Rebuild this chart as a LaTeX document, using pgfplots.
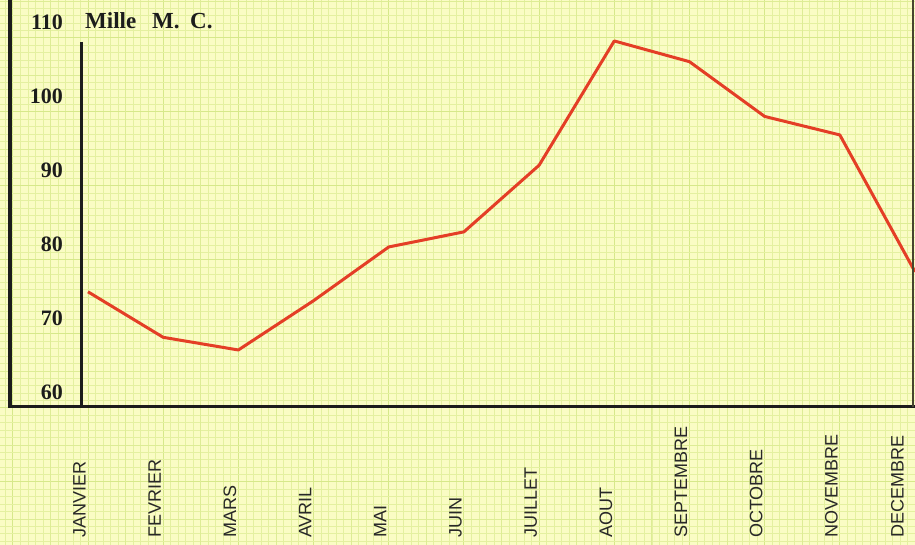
\documentclass[border=0pt]{standalone}
\usepackage{pgfplots}
\pgfplotsset{compat=1.18}
\usepackage{fontspec}
\setmainfont{Liberation Serif}
\newfontfamily\sansf{Liberation Sans}
\definecolor{paper}{RGB}{250,252,196}
\definecolor{gminor}{RGB}{228,240,160}
\definecolor{gmajor}{RGB}{214,232,138}
\definecolor{ink}{RGB}{28,28,28}
\definecolor{monthink}{RGB}{40,40,40}
\definecolor{redline}{RGB}{228,62,38}
\begin{document}
\begin{tikzpicture}
\begin{axis}[name=ax, at={(0,0)}, anchor=south west,
  scale only axis, width=915pt, height=545pt,
  xmin=-1.1705, xmax=11.0, ymin=41.486, ymax=115.135,
  axis background/.style={fill=paper},
  axis line style={draw=none},
  xtick={-2,...,12}, ytick={30,40,...,120},
  minor x tick num=9, minor y tick num=9,
  major tick length=0pt, minor tick length=0pt,
  xticklabels={}, yticklabels={},
  grid=both,
  minor grid style={gminor, line width=0.7pt},
  major grid style={gmajor, line width=1.0pt},
  extra x ticks={-1.5,-0.5,...,11.5}, extra y ticks={35,45,...,115},
  extra x tick labels={}, extra y tick labels={},
  extra tick style={major grid style={gmajor!50!gminor, line width=0.8pt}},
  clip=true,
]
\addplot[redline, line width=3pt, line join=round] coordinates {
  (0,75.7) (1,69.55) (2,67.84) (3,74.5) (4,81.76) (5,83.8)
  (6,92.8) (7,109.6) (8,106.8) (9,99.4) (10,96.9) (11,78.4)
};
% frame lines
\draw[ink, line width=3.5pt] (axis cs:-1.0375,115.2) -- (axis cs:-1.0375,60.135);
\draw[ink, line width=3pt] (axis cs:-0.0865,109.46) -- (axis cs:-0.0865,60.135);
\draw[ink, line width=3pt] (axis cs:-1.064,60.135) -- (axis cs:11.05,60.135);
\draw[black!65!olive, line width=1.3pt] (axis cs:10.974,115.2) -- (axis cs:10.974,60.135);
% y labels
\foreach \v in {60,70,80,90,100,110}{
  \edef\tmp{\noexpand\node[anchor=base east, inner sep=0pt, text=ink, font=\noexpand\fontsize{22}{22}\noexpand\selectfont\noexpand\bfseries] at (axis cs:-0.3325,\v+1.1) {\v};}
  \tmp
}
\node[anchor=base west, inner sep=0pt, text=ink, font=\fontsize{23}{24}\selectfont\bfseries] at (axis cs:-0.04,111.31) {Mille};
\node[anchor=base west, inner sep=0pt, text=ink, font=\fontsize{23}{24}\selectfont\bfseries] at (axis cs:0.851,111.31) {M.};
\node[anchor=base west, inner sep=0pt, text=ink, font=\fontsize{23}{24}\selectfont\bfseries] at (axis cs:1.357,111.31) {C.};
% month labels
\tikzset{month/.style={rotate=90, anchor=base west, inner sep=0pt, text=monthink, font=\sansf\fontsize{18}{18}\selectfont}}
\node[month] at (axis cs:-0.03,42.43) {JANVIER};
\node[month] at (axis cs:0.97,42.43) {FEVRIER};
\node[month] at (axis cs:1.97,42.43) {MARS};
\node[month] at (axis cs:2.97,42.43) {AVRIL};
\node[month] at (axis cs:3.97,42.43) {MAI};
\node[month] at (axis cs:4.97,42.43) {JUIN};
\node[month] at (axis cs:5.97,42.43) {JUILLET};
\node[month] at (axis cs:6.97,42.43) {AOUT};
\node[month] at (axis cs:7.97,42.43) {SEPTEMBRE};
\node[month] at (axis cs:8.97,42.43) {OCTOBRE};
\node[month] at (axis cs:9.97,42.43) {NOVEMBRE};
\node[month] at (axis cs:10.85,42.43) {DECEMBRE};
\end{axis}
\pgfresetboundingbox
\useasboundingbox (ax.south west) rectangle (ax.north east);
\end{tikzpicture}
\end{document}
